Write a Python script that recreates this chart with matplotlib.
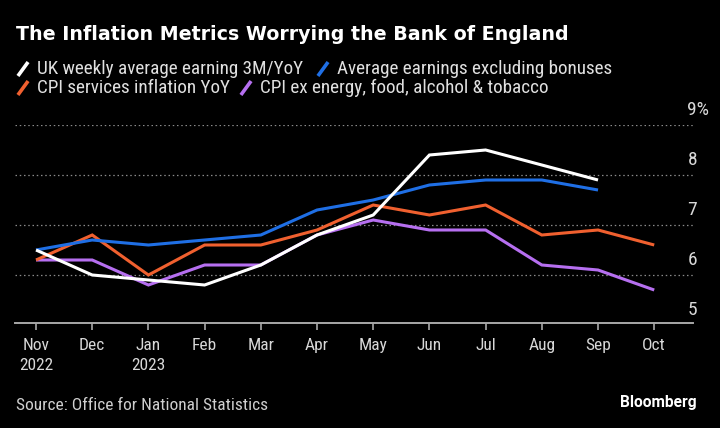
import numpy as np
import matplotlib.pyplot as plt
from matplotlib.lines import Line2D
from matplotlib import transforms

plt.rcParams['font.family'] = ['Roboto Condensed', 'Lato', 'DejaVu Sans']

# Data
months = ['Nov\n2022', 'Dec', 'Jan\n2023', 'Feb', 'Mar', 'Apr', 'May', 'Jun', 'Jul', 'Aug', 'Sep', 'Oct']
weekly_earn = [6.5, 6.0, 5.9, 5.8, 6.2, 6.8, 7.2, 8.4, 8.5, 8.2, 7.9]
earn_ex_bonus = [6.5, 6.7, 6.6, 6.7, 6.8, 7.3, 7.5, 7.8, 7.9, 7.9, 7.7]
cpi_services = [6.3, 6.8, 6.0, 6.6, 6.6, 6.9, 7.4, 7.2, 7.4, 6.8, 6.9, 6.6]
cpi_core = [6.3, 6.3, 5.8, 6.2, 6.2, 6.8, 7.1, 6.9, 6.9, 6.2, 6.1, 5.7]
yticks = [5, 6, 7, 8, 9]
ylabels = ['5', '6', '7', '8', '9%']

series = [
    ('UK weekly average earning 3M/YoY', weekly_earn, '#ffffff'),
    ('Average earnings excluding bonuses', earn_ex_bonus, '#1f6fe5'),
    ('CPI services inflation YoY', cpi_services, '#f0602f'),
    ('CPI ex energy, food, alcohol & tobacco', cpi_core, '#b66ff0'),
]

bg = '#000000'
fig = plt.figure(figsize=(7.2, 4.28), dpi=100, facecolor=bg)
W, H = 720, 428
# axes: x 15..693 px, y 125..323 px
ax = fig.add_axes([15/W, 1-323/H, (693-15)/W, (323-125)/H], facecolor=bg)

# draw order: purple, orange, blue, white on top
for name, vals, col in [series[3], series[2], series[1], series[0]]:
    x = np.arange(len(vals))
    ax.plot(x, vals, color=col, lw=2.2, solid_joinstyle='miter', solid_capstyle='butt', zorder=3)

ax.set_xlim(-0.374, 11.69)
ax.set_ylim(5.04, 9.0)

for v in [6, 7, 8, 9]:
    ax.axhline(v, color='#8a8a8a', lw=0.9, ls=(0, (1.2, 2.2)), zorder=1)

for s in ['top', 'right', 'left']:
    ax.spines[s].set_visible(False)
ax.spines['bottom'].set_color('#a8a8a8')
ax.spines['bottom'].set_linewidth(1.4)

ax.set_xticks(np.arange(len(months)))
ax.set_xticklabels(months, fontsize=12.5, color='#d8d8d8', linespacing=1.4, va='top')
ax.tick_params(axis='x', colors='#a8a8a8', length=5, width=1.2, pad=6, labelcolor='#d8d8d8')
ax.set_yticks([])

# y labels sit above their gridline on the right
off = transforms.ScaledTranslation(-4/72, 10.8/72, fig.dpi_scale_trans)
tr = transforms.blended_transform_factory(ax.transAxes, ax.transData) + off
for v, lab in zip(yticks, ylabels):
    ax.text(1.0, v, lab, transform=tr, fontsize=14, color='#d8d8d8', ha='left', va='center')

# title
fig.text(16/W, 1-34/H, 'The Inflation Metrics Worrying the Bank of England',
         fontsize=13.7, fontweight='bold', color='white', va='center', family=['DejaVu Sans'])

# legend
leg = [
    (16, 69, series[0]), (316, 69, series[1]),
    (16, 88, series[2]), (239, 88, series[3]),
]
for px, py, (name, vals, col) in leg:
    fig.add_artist(Line2D([(px+3)/W, (px+11)/W], [1-(py+5.5)/H, 1-(py-5.5)/H],
                          color=col, lw=2.6, transform=fig.transFigure))
    fig.text((px+21)/W, 1-py/H, name, fontsize=13.8, color='#e0e0e0', va='center')

fig.text(16/W, 1-405/H, 'Source: Office for National Statistics', fontsize=12.5,
         color='#cfcfcf', va='center')
fig.text(697/W, 1-403/H, 'Bloomberg', fontsize=11.2, fontweight='bold', color='white',
         va='center', ha='right', family=['Roboto'])

fig.savefig('out.png', dpi=100, facecolor=bg)
